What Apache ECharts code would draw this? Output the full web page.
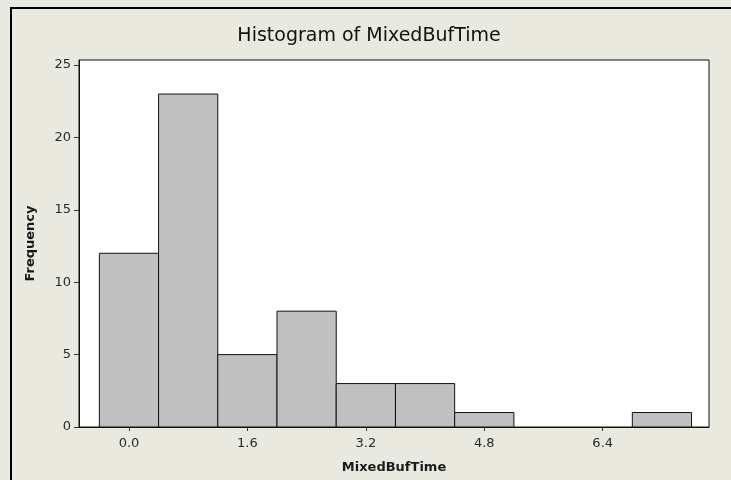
<!DOCTYPE html>
<html>
<head>
<meta charset="utf-8">
<title>Histogram of MixedBufTime</title>
<script src="https://cdn.jsdelivr.net/npm/echarts@6/dist/echarts.min.js"></script>
<style>
  html, body { margin: 0; padding: 0; background: #E9E9DF; }
  #chart { width: 731px; height: 480px; }
</style>
</head>
<body>
<div id="chart"></div>
<script>
// Histogram bins: lower edge of each bin (width 0.8) and its count
const binStarts = [-0.4, 0.4, 1.2, 2.0, 2.8, 3.6, 4.4, 5.2, 6.0, 6.8];
const binWidth = 0.8;
const counts = [12, 23, 5, 8, 3, 3, 1, 0, 0, 1];

// Axis tick positions
const xTicks = [0.0, 1.6, 3.2, 4.8, 6.4];
const yTicks = [0, 5, 10, 15, 20, 25];

const binData = binStarts.map((s, i) => [s, s + binWidth, counts[i]]);

const font = 'DejaVu Sans';
const chart = echarts.init(document.getElementById('chart'));

chart.setOption({
  backgroundColor: '#E9E9DF',
  animation: false,
  grid: {
    left: 79, right: 22, top: 60, bottom: 53,
    show: true, backgroundColor: '#ffffff',
    borderColor: '#111', borderWidth: 1
  },
  graphic: [
    // frame lines along the top and left of the window
    { type: 'rect', shape: { x: 10, y: 7, width: 721, height: 2 }, style: { fill: '#000' } },
    { type: 'rect', shape: { x: 10, y: 7, width: 2, height: 473 }, style: { fill: '#000' } },
    {
      type: 'text', x: 369, y: 36,
      style: {
        text: 'Histogram of MixedBufTime', fill: '#111',
        font: 'normal 19px "' + font + '"',
        textAlign: 'center', textVerticalAlign: 'middle'
      }
    }
  ],
  xAxis: {
    type: 'value',
    min: -0.675, max: 7.836,
    name: 'MixedBufTime',
    nameLocation: 'middle', nameGap: 34,
    nameTextStyle: { fontFamily: font, fontSize: 13, fontWeight: 'bold', color: '#1a1a1a' },
    axisLine: { show: true, onZero: false, lineStyle: { color: '#111', width: 1 } },
    axisTick: { show: true, length: 4, customValues: xTicks, lineStyle: { color: '#333' } },
    axisLabel: {
      customValues: xTicks, margin: 10,
      fontFamily: font, fontSize: 13, color: '#2a2a2a',
      formatter: v => v.toFixed(1)
    },
    splitLine: { show: false }
  },
  yAxis: {
    type: 'value',
    min: 0, max: 25.35,
    name: 'Frequency',
    nameLocation: 'middle', nameGap: 42,
    nameTextStyle: { fontFamily: font, fontSize: 13, fontWeight: 'bold', color: '#1a1a1a' },
    axisLine: { show: true, onZero: false, lineStyle: { color: '#111', width: 1 } },
    axisTick: { show: true, length: 5, customValues: yTicks, lineStyle: { color: '#333' } },
    axisLabel: {
      customValues: yTicks, margin: 8,
      fontFamily: font, fontSize: 13, color: '#2a2a2a'
    },
    splitLine: { show: false }
  },
  series: [{
    type: 'custom',
    data: binData,
    encode: { x: [0, 1], y: 2 },
    renderItem: (params, api) => {
      const h = api.value(2);
      if (!h) return null;
      const p0 = api.coord([api.value(0), h]);
      const p1 = api.coord([api.value(1), 0]);
      return {
        type: 'rect',
        shape: { x: p0[0], y: p0[1], width: p1[0] - p0[0], height: p1[1] - p0[1] },
        style: { fill: '#C0C0C0', stroke: '#111', lineWidth: 1 }
      };
    }
  }]
});
</script>
</body>
</html>
